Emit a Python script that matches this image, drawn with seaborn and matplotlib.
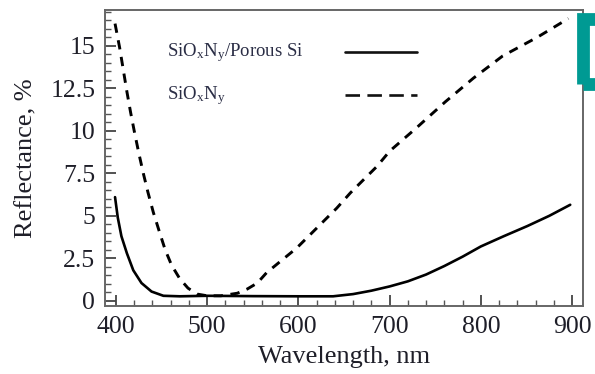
import numpy as np
import pandas as pd
import seaborn as sns
import matplotlib
matplotlib.use("Agg")
import matplotlib.pyplot as plt
from matplotlib.ticker import MultipleLocator
from matplotlib.patches import Rectangle

# ---- data ----
wl_porous = [399, 402, 406, 412, 419, 428, 439, 452, 470, 500, 550, 600, 638, 660,
             680, 700, 720, 740, 760, 780, 800, 825, 851, 875, 898]
r_porous = [6.1, 4.9, 3.8, 2.8, 1.8, 1.05, 0.55, 0.3, 0.27, 0.3, 0.28, 0.27, 0.27, 0.4,
            0.6, 0.85, 1.15, 1.55, 2.05, 2.6, 3.2, 3.8, 4.4, 5.0, 5.65]

wl_plain = [399, 404, 408, 412, 416, 420, 425, 430, 435, 441, 448, 454, 461, 470, 479,
            489, 500, 515, 533, 544, 555, 565, 582, 598, 613, 627, 642, 657, 671, 686,
            700, 730, 761, 792, 824, 862, 896]
r_plain = [16.3, 14.9, 13.6, 12.3, 11.1, 10.0, 8.7, 7.5, 6.4, 5.2, 4.0, 3.0, 2.1, 1.3, 0.75,
           0.4, 0.3, 0.3, 0.45, 0.7, 1.05, 1.65, 2.4, 3.1, 3.9, 4.65, 5.45, 6.35, 7.1, 7.9,
           8.8, 10.2, 11.7, 13.1, 14.4, 15.5, 16.6]

series_labels = [r"SiO$_\mathregular{x}$N$_\mathregular{y}$/Porous Si",
                 r"SiO$_\mathregular{x}$N$_\mathregular{y}$"]
x_ticks = [400, 500, 600, 700, 800, 900]
y_ticks = [0, 2.5, 5, 7.5, 10, 12.5, 15]
y_tick_labels = ["0", "2.5", "5", "7.5", "10", "12.5", "15"]

df_porous = pd.DataFrame({"wl": wl_porous, "R": r_porous})
df_plain = pd.DataFrame({"wl": wl_plain, "R": r_plain})

# ---- style ----
sns.set_theme(style="white")
plt.rcParams["font.family"] = ["Liberation Serif", "DejaVu Serif"]
plt.rcParams["mathtext.default"] = "regular"

ink = "#1e1e28"
fig = plt.figure(figsize=(5.95, 3.74), dpi=100)
ax = fig.add_axes([105 / 595, 1 - 306 / 374, 478 / 595, 296 / 374])

sns.lineplot(data=df_porous, x="wl", y="R", ax=ax, color="black", lw=1.9,
             estimator=None, sort=False)
sns.lineplot(data=df_plain, x="wl", y="R", ax=ax, color="black", lw=2.1,
             estimator=None, sort=False, dashes=False)
ax.lines[-1].set_dashes((3.2, 2.6))

ax.set_xlim(388, 912)
ax.set_ylim(-0.3, 17.1)
ax.set_xticks(x_ticks)
ax.set_yticks(y_ticks)
ax.set_yticklabels(y_tick_labels)
ax.xaxis.set_minor_locator(MultipleLocator(20))
ax.yaxis.set_minor_locator(MultipleLocator(0.5))
ax.tick_params(axis="both", which="major", direction="in", length=8, width=1.3,
               color="#444444", labelsize=18.5, labelcolor=ink, pad=7)
ax.tick_params(axis="both", which="minor", direction="in", length=4, width=1.0,
               color="#555555")
ax.tick_params(top=False, right=False, which="both")
ax.tick_params(axis="both", which="both", bottom=True, left=True)

for s in ax.spines.values():
    s.set_color("#666666")
    s.set_linewidth(1.4)

ax.set_xlabel("Wavelength, nm", fontsize=19, color=ink, labelpad=6)
ax.set_ylabel("Reflectance, %", fontsize=19, color=ink, labelpad=9)

# legend (manual layout, text left-aligned, samples on the right)
leg_y = [0.857, 0.712]
for i, (lab, yy) in enumerate(zip(series_labels, leg_y)):
    ax.text(0.13, yy, lab, transform=ax.transAxes, fontsize=13.5, color="#2a2d45",
            va="center", ha="left")
    ln, = ax.plot([0.502, 0.653], [yy, yy], transform=ax.transAxes, color="#111111",
                  lw=1.9)
    if i == 1:
        ln.set_dashes((5.5, 2.8))

# teal frame fragment at top right
fig.patches.append(Rectangle((582.5 / 595, 1 - 83.5 / 374), 30 / 595, 64.5 / 374,
                             transform=fig.transFigure, fill=False,
                             edgecolor="#009a93", lw=9.2, zorder=5))

fig.savefig("out.png", dpi=100)
